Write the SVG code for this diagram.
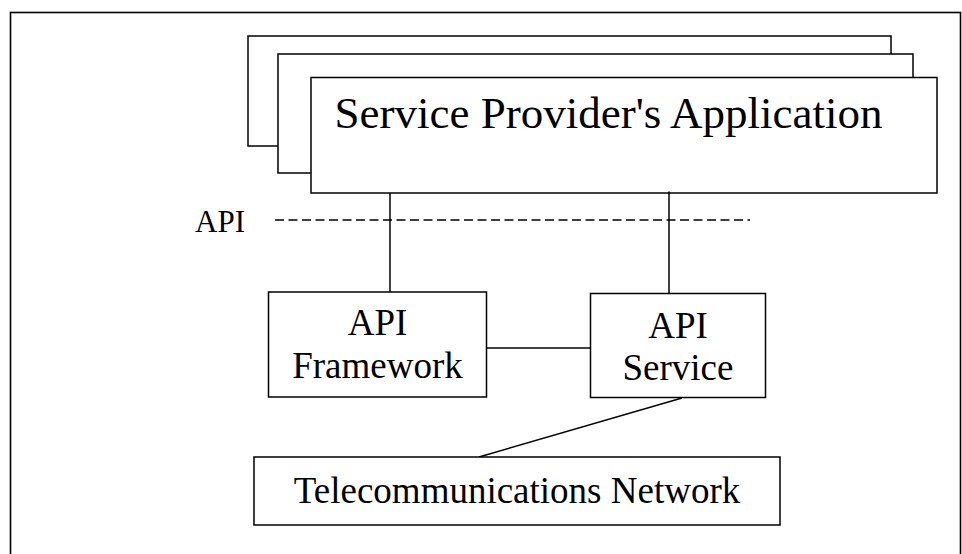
<svg xmlns="http://www.w3.org/2000/svg" width="962" height="554" viewBox="0 0 962 554">
<style>
.box{fill:#fff;stroke:#000;stroke-width:1.5}
.ln{stroke:#000;stroke-width:1.5;fill:none}
.t{font-family:"Liberation Serif","Times New Roman",serif;fill:#000;text-anchor:middle}
</style>
<rect x="0" y="0" width="962" height="554" fill="#fff"/>
<rect id="frame" x="10.5" y="12.5" width="950" height="560" fill="none" stroke="#000" stroke-width="1.6"/>
<g id="app-stack">
<rect class="box" x="248" y="36" width="643" height="110"/>
<rect class="box" x="278" y="54" width="635" height="119"/>
<rect class="box" x="311" y="77.5" width="626" height="115.5"/>
<text class="t" x="608.5" y="128" font-size="45">Service Provider's Application</text>
</g>
<g id="api-boundary">
<line x1="275" y1="220" x2="750" y2="220" stroke="#000" stroke-width="1.5" stroke-dasharray="9,4.5"/>
<text class="t" x="220" y="232" font-size="31">API</text>
</g>
<g id="connectors">
<line class="ln" x1="390" y1="193" x2="390" y2="292"/>
<line class="ln" x1="669" y1="191.5" x2="669" y2="293.5"/>
<line class="ln" x1="487" y1="348" x2="590.5" y2="348"/>
<line class="ln" x1="682" y1="398" x2="479" y2="457"/>
</g>
<g id="api-framework">
<rect class="box" x="268.5" y="292" width="218" height="105"/>
<text class="t" x="377.5" y="335" font-size="37">API</text>
<text class="t" x="377.5" y="378" font-size="37">Framework</text>
</g>
<g id="api-service">
<rect class="box" x="590.5" y="293.5" width="175" height="104"/>
<text class="t" x="678" y="338" font-size="37">API</text>
<text class="t" x="678" y="380" font-size="37">Service</text>
</g>
<g id="telecom-network">
<rect class="box" x="254" y="457" width="526" height="68"/>
<text class="t" x="517" y="503" font-size="37">Telecommunications Network</text>
</g>
</svg>
